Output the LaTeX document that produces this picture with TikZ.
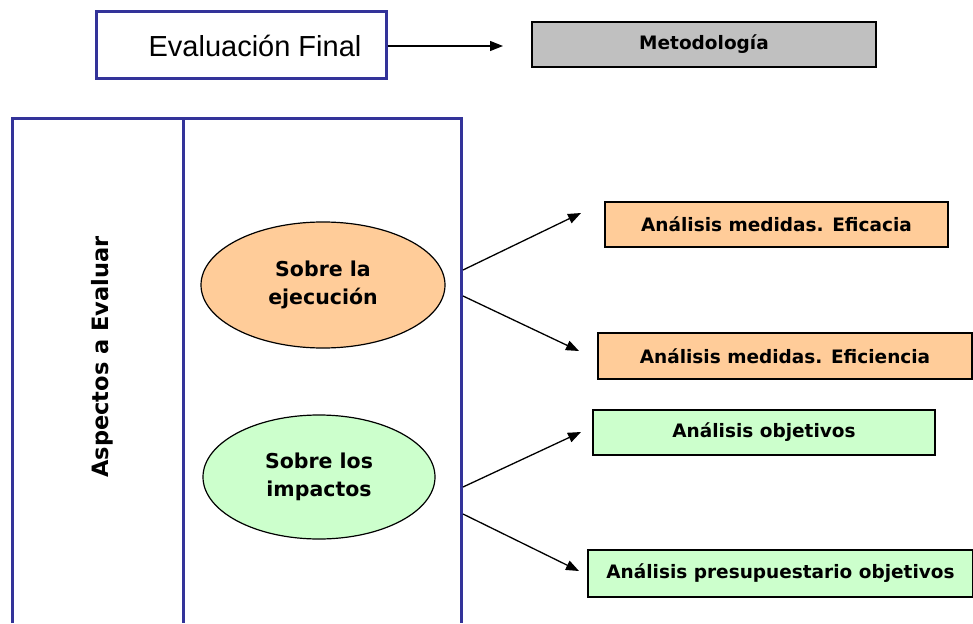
\documentclass[tikz,border=0pt]{standalone}
\usepackage{fontspec}
\setmainfont{Liberation Sans}
\newfontfamily\heavy{DejaVu Sans}
\usetikzlibrary{arrows.meta,shapes.geometric}
\definecolor{navy}{HTML}{333399}
\definecolor{peach}{HTML}{FFCC99}
\definecolor{mint}{HTML}{CCFFCC}
\definecolor{greybox}{HTML}{C0C0C0}
\tikzset{
  bluebox/.style={draw=navy, line width=3pt},
  anbox/.style={draw=black, line width=1.3pt, rectangle, inner sep=0pt, font=\heavy\bfseries\fontsize{18.5}{20}\selectfont},
  oval/.style={draw=black, line width=1.2pt, ellipse, inner sep=0pt, align=center, font=\heavy\bfseries\fontsize{20.5}{28}\selectfont},
  conn/.style={line width=1.3pt, -{Triangle[length=13pt,width=10pt]}},
}
\begin{document}
\begin{tikzpicture}[x=1pt,y=-1pt]
\useasboundingbox (0,0) rectangle (973,623);
% top
\node[bluebox, rectangle, minimum width=290pt, minimum height=67pt, inner sep=0pt, font=\fontsize{29}{32}\selectfont] (ef) at (241,45.5) {\hspace*{28pt}Evaluación Final};
\node[anbox, fill=greybox, minimum width=344pt, minimum height=45pt] (met) at (704,44.5) {Metodología};
\coordinate (metin) at (503,46);
\draw[conn] (ef.east |- metin) -- (metin);
% panel
\draw[navy, line width=3pt] (12,623) -- (12,118) -- (461,118) -- (461,623);
\draw[navy, line width=3pt] (183,118) -- (183,623);
\node[rotate=90, font=\heavy\bfseries\fontsize{22.5}{24}\selectfont] (asp) at (102,357) {Aspectos a Evaluar};
% ellipses
\node[oval, fill=peach, minimum width=244pt, minimum height=126pt] (ej) at (323,285) {Sobre la\\ejecución};
\node[oval, fill=mint, minimum width=232pt, minimum height=124pt] (im) at (319,477) {Sobre los\\impactos};
% boxes
\node[anbox, fill=peach, minimum width=343pt, minimum height=45pt] (b1) at (776.5,224.5) {Análisis medidas. Eficacia};
\node[anbox, fill=peach, minimum width=374pt, minimum height=46pt] (b2) at (785,356) {Análisis medidas. Eficiencia};
\node[anbox, fill=mint, minimum width=342pt, minimum height=45pt] (b3) at (764,432.5) {Análisis objetivos};
\node[anbox, fill=mint, minimum width=385pt, minimum height=47pt] (b4) at (780.5,573.5) {Análisis presupuestario objetivos};
% connectors
\coordinate (s1) at (463,270);
\coordinate (s2) at (463,296);
\coordinate (s3) at (463,487);
\coordinate (s4) at (463,514);
\coordinate (e1) at (581,213);
\coordinate (e2) at (579,351);
\coordinate (e3) at (581,432);
\coordinate (e4) at (579,571);
\draw[conn] (s1) -- (e1);
\draw[conn] (s2) -- (e2);
\draw[conn] (s3) -- (e3);
\draw[conn] (s4) -- (e4);
\end{tikzpicture}
\end{document}
